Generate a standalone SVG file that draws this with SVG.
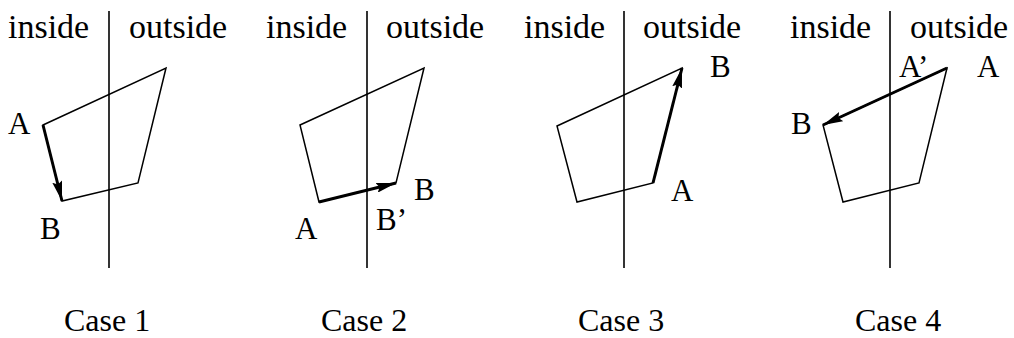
<svg xmlns="http://www.w3.org/2000/svg" width="1014" height="338" viewBox="0 0 1014 338">
<style>
text{font-family:"Liberation Serif","Times New Roman",serif;fill:#000}
.hdr{font-size:34px}
.lbl{font-size:31px}
.cap{font-size:32px}
.div{stroke:#000;stroke-width:1.6;fill:none}
.poly{stroke:#000;stroke-width:1.5;fill:none;stroke-linejoin:miter}
.arr{stroke:#000;stroke-width:3;fill:none;marker-end:url(#ah)}
</style>
<defs>
<marker id="ah" viewBox="0 0 20 10" refX="20" refY="5" markerWidth="20" markerHeight="10" markerUnits="userSpaceOnUse" orient="auto">
<path d="M0,0 L20,5 L0,10 L3,5 Z" fill="#000"/>
</marker>
</defs>
<rect width="1014" height="338" fill="#fff"/>

<g id="case1">
<line class="div" x1="109" y1="11" x2="109" y2="268"/>
<polygon class="poly" points="43,125 166,68 138,183 62,201"/>
<text class="hdr" x="8" y="38">inside</text>
<text class="hdr" x="129" y="38">outside</text>
<text class="lbl" x="8" y="134">A</text>
<text class="lbl" x="40" y="239">B</text>
<text class="cap" x="64" y="331">Case 1</text>
</g>

<g id="case2">
<line class="div" x1="367" y1="11" x2="367" y2="268"/>
<polygon class="poly" points="300,125 424,68 396,183 319,202"/>
<text class="hdr" x="266" y="38">inside</text>
<text class="hdr" x="386" y="38">outside</text>
<text class="lbl" x="295" y="239">A</text>
<text class="lbl" x="376" y="230">B’</text>
<text class="lbl" x="414" y="200">B</text>
<text class="cap" x="321" y="331">Case 2</text>
</g>

<g id="case3">
<line class="div" x1="624" y1="11" x2="624" y2="268"/>
<polygon class="poly" points="557,126 682,68 653,183 577,202"/>
<text class="hdr" x="524" y="38">inside</text>
<text class="hdr" x="643" y="38">outside</text>
<text class="lbl" x="710" y="77">B</text>
<text class="lbl" x="671" y="201">A</text>
<text class="cap" x="578" y="331">Case 3</text>
</g>

<g id="case4">
<line class="div" x1="890" y1="11" x2="890" y2="268"/>
<polygon class="poly" points="823,125 947,68 919,183 843,202"/>
<text class="hdr" x="790" y="38">inside</text>
<text class="hdr" x="910" y="38">outside</text>
<text class="lbl" x="899" y="77">A’</text>
<text class="lbl" x="977" y="77">A</text>
<text class="lbl" x="791" y="134">B</text>
<text class="cap" x="855" y="331">Case 4</text>
</g>

<g id="connectors">
<line class="arr" x1="43" y1="125" x2="62" y2="201"/>
<line class="arr" x1="319" y1="202" x2="396" y2="183"/>
<line class="arr" x1="653" y1="183" x2="682" y2="68"/>
<line class="arr" x1="947" y1="68" x2="823" y2="125"/>
</g>
</svg>
